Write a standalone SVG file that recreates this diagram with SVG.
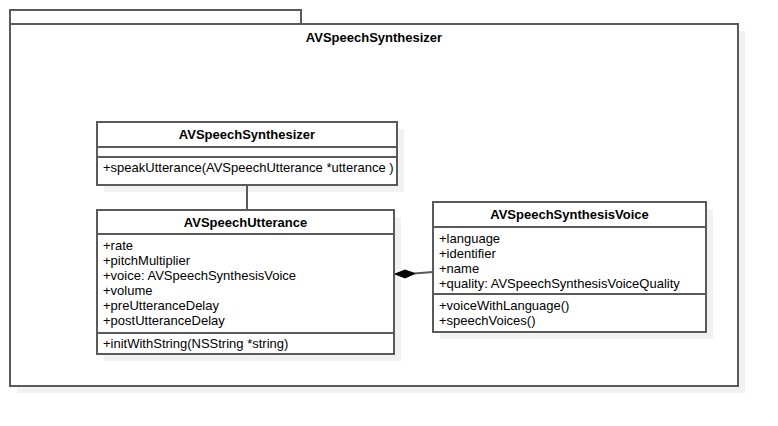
<svg xmlns="http://www.w3.org/2000/svg" width="778" height="426" viewBox="0 0 778 426">
<style>
.sh{fill:#f2f2f2;stroke:none}
.bx{fill:#ffffff;stroke:#5a5a5a;stroke-width:2}
.ln{stroke:#5a5a5a;stroke-width:2;fill:none}
.t{font-family:"Liberation Sans",Arial,sans-serif;font-size:13px;fill:#000}
.b{font-weight:bold;text-anchor:middle}
</style>
<g id="package">
<rect class="sh" x="17" y="31" width="728" height="362"/>
<rect class="bx" x="10" y="10" width="291" height="14"/>
<rect class="bx" x="10" y="24" width="728" height="362"/>
<text class="t b" x="374" y="42">AVSpeechSynthesizer</text>
</g>
<g id="synthesizer">
<rect class="sh" x="104" y="129" width="300" height="63"/>
<rect class="bx" x="97" y="122" width="300" height="63"/>
<line class="ln" x1="97" y1="147" x2="397" y2="147"/>
<line class="ln" x1="97" y1="157" x2="397" y2="157"/>
<text class="t b" x="247" y="139">AVSpeechSynthesizer</text>
<text class="t" x="103" y="172">+speakUtterance(AVSpeechUtterance *utterance )</text>
</g>
<g id="utterance">
<rect class="sh" x="104" y="217" width="297" height="144"/>
<rect class="bx" x="97" y="210" width="297" height="144"/>
<line class="ln" x1="97" y1="234" x2="394" y2="234"/>
<line class="ln" x1="97" y1="333" x2="394" y2="333"/>
<text class="t b" x="245.5" y="227">AVSpeechUtterance</text>
<text class="t" x="103" y="250">+rate</text>
<text class="t" x="103" y="265">+pitchMultiplier</text>
<text class="t" x="103" y="280">+voice: AVSpeechSynthesisVoice</text>
<text class="t" x="103" y="295">+volume</text>
<text class="t" x="103" y="310">+preUtteranceDelay</text>
<text class="t" x="103" y="325">+postUtteranceDelay</text>
<text class="t" x="103" y="348">+initWithString(NSString *string)</text>
</g>
<g id="voice">
<rect class="sh" x="440" y="209" width="273" height="130"/>
<rect class="bx" x="433" y="202" width="273" height="130"/>
<line class="ln" x1="433" y1="227" x2="706" y2="227"/>
<line class="ln" x1="433" y1="294" x2="706" y2="294"/>
<text class="t b" x="569.5" y="219">AVSpeechSynthesisVoice</text>
<text class="t" x="439" y="243">+language</text>
<text class="t" x="439" y="258">+identifier</text>
<text class="t" x="439" y="273">+name</text>
<text class="t" x="439" y="288">+quality: AVSpeechSynthesisVoiceQuality</text>
<text class="t" x="439" y="310">+voiceWithLanguage()</text>
<text class="t" x="439" y="325">+speechVoices()</text>
</g>
<g id="connectors">
<line class="ln" x1="247" y1="185" x2="247" y2="210"/>
<line class="ln" x1="433" y1="272" x2="414" y2="273.5"/>
<polygon points="395,274 405,270 415,273.5 405,278" fill="#000" stroke="#000" stroke-width="1"/>
</g>
</svg>
